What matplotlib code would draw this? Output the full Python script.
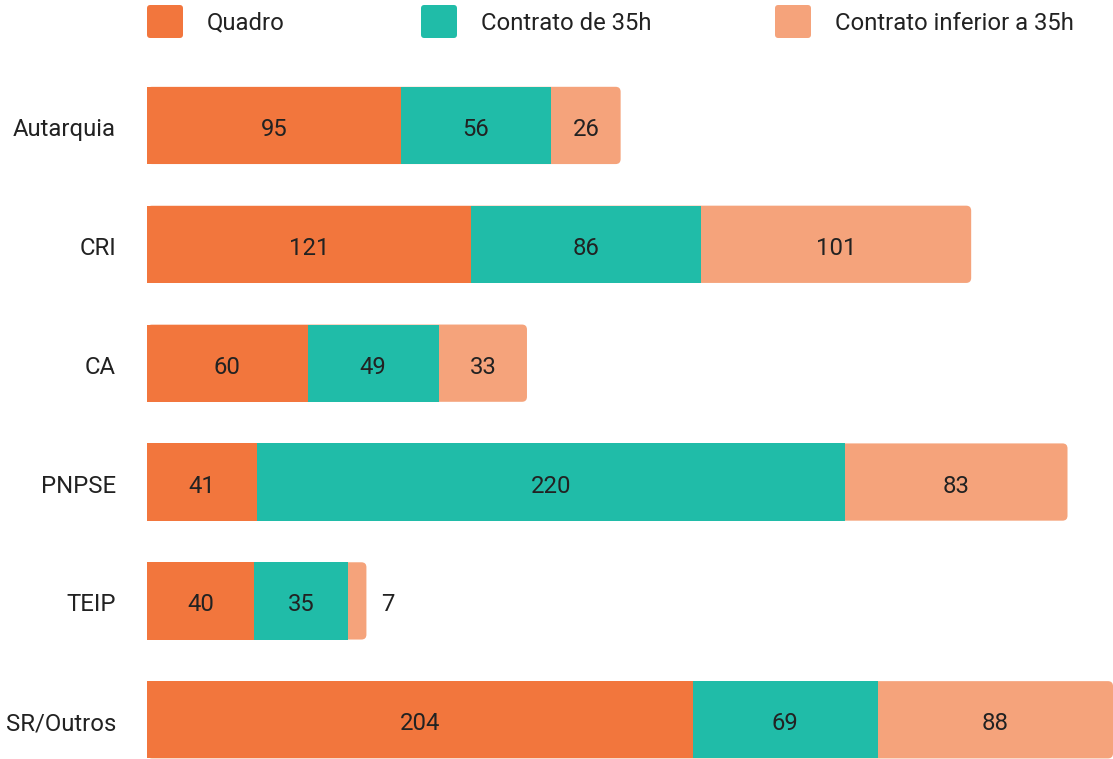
import matplotlib.pyplot as plt
from matplotlib.patches import FancyBboxPatch
from matplotlib.transforms import ScaledTranslation
import numpy as np

plt.rcParams['font.family'] = ['Roboto', 'DejaVu Sans']

categorias = ['Autarquia', 'CRI', 'CA', 'PNPSE', 'TEIP', 'SR/Outros']
quadro = [95, 121, 60, 41, 40, 204]
contrato_35h = [56, 86, 49, 220, 35, 69]
contrato_inf = [26, 101, 33, 83, 7, 88]
series_nomes = ['Quadro', 'Contrato de 35h', 'Contrato inferior a 35h']
cores = ['#F2763D', '#20BCA8', '#F5A37B']

W, H = 1113, 759
fs = 17.2
cor_txt = '#222222'
fig = plt.figure(figsize=(W / 100, H / 100), dpi=100)
ax = fig.add_axes([147 / W, 0, 1 - 147 / W, (H - 66) / H])

y = np.arange(len(categorias))
altura = 0.65
xmax = max(a + b + c for a, b, c in zip(quadro, contrato_35h, contrato_inf))
ax.set_xlim(0, xmax)
ax.set_ylim(5.33, -0.5)

# escala em unidades de dados por pixel para arredondar os cantos
x_por_px = xmax / (W - 147)
y_por_px = 5.83 / (H - 66)
raio = 5 * x_por_px
desce = ScaledTranslation(0, -4 / 100, fig.dpi_scale_trans)

series = [quadro, contrato_35h, contrato_inf]
for i in range(len(categorias)):
    total = quadro[i] + contrato_35h[i] + contrato_inf[i]
    # último segmento com cantos arredondados, por baixo dos outros
    caixa = FancyBboxPatch((0, y[i] - altura / 2), total, altura,
                           boxstyle=f'round,pad=0,rounding_size={raio}',
                           mutation_aspect=y_por_px / x_por_px,
                           facecolor=cores[2], edgecolor='none', zorder=1)
    ax.add_patch(caixa)

esquerda = np.zeros(len(categorias))
for k, vals in enumerate(series):
    vals = np.array(vals)
    if k < 2:
        ax.barh(y, vals, left=esquerda, height=altura, color=cores[k],
                edgecolor='none', zorder=2)
    for i, v in enumerate(vals):
        if v >= 15:
            ax.text(esquerda[i] + v / 2, y[i], str(v), ha='center', va='center',
                    fontsize=fs, color=cor_txt, zorder=3,
                    transform=ax.transData + desce)
        else:
            ax.text(esquerda[i] + v + 15 * x_por_px, y[i], str(v), ha='left',
                    va='center', fontsize=fs, color=cor_txt, zorder=3,
                    transform=ax.transData + desce)
    esquerda += vals

# nomes das categorias à esquerda das barras
rotulo_tr = ax.get_yaxis_transform() + ScaledTranslation(-31 / 100, -4 / 100,
                                                         fig.dpi_scale_trans)
for yi, nome in zip(y, categorias):
    ax.text(0, yi, nome, ha='right', va='center', fontsize=fs, color=cor_txt,
            transform=rotulo_tr, clip_on=False)

ax.set_yticks([])
ax.set_xticks([])
for s in ax.spines.values():
    s.set_visible(False)

# legenda
leg_x = [147, 421, 775]
for nome, cor, px in zip(series_nomes, cores, leg_x):
    q = FancyBboxPatch((px / W, 1 - 38 / H), 36 / W, 33 / H,
                       boxstyle='round,pad=0,rounding_size=0.003',
                       mutation_aspect=W / H,
                       transform=fig.transFigure, facecolor=cor,
                       edgecolor='none')
    fig.add_artist(q)
    fig.text((px + 60) / W, 1 - 23 / H, nome, ha='left', va='center',
             fontsize=fs, color=cor_txt)

fig.savefig('out.png', dpi=100)
